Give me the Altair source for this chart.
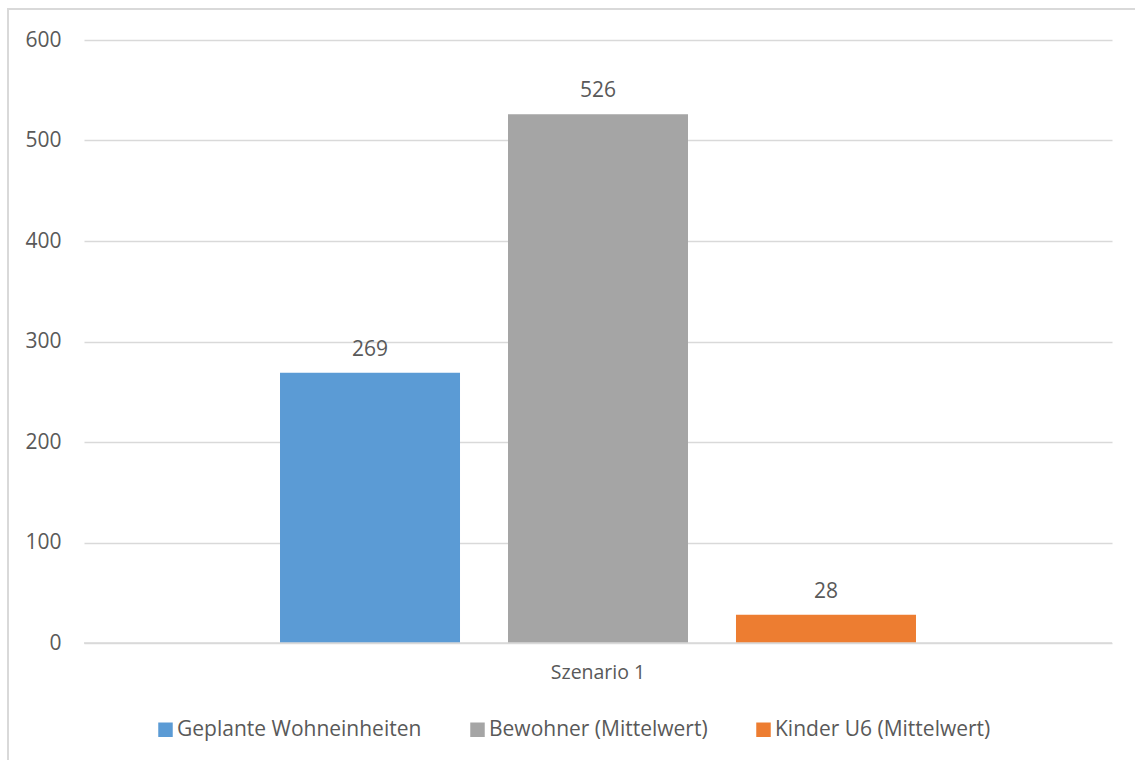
import altair as alt
import pandas as pd

series = ["Geplante Wohneinheiten", "Bewohner (Mittelwert)", "Kinder U6 (Mittelwert)"]
values = [269, 526, 28]
colors = ["#5B9BD5", "#A5A5A5", "#ED7D31"]
category = "Szenario 1"
y_ticks = [0, 100, 200, 300, 400, 500, 600]

df = pd.DataFrame({"Kategorie": [category] * 3, "Reihe": series, "Wert": values})

FONT = "Open Sans"
TXT = "#595959"

x_enc = alt.X("Kategorie:N", title=None,
              scale=alt.Scale(paddingInner=0, paddingOuter=0.3082),
              axis=alt.Axis(labelAngle=0, ticks=False, domain=False, grid=False, labelPadding=20,
                            labelFontSize=19.5, labelColor=TXT, labelFont=FONT))
xoff = alt.XOffset("Reihe:N", scale=alt.Scale(domain=series, paddingInner=0.2105, paddingOuter=0))
y_enc = alt.Y("Wert:Q", title=None,
              scale=alt.Scale(domain=[0, 600], nice=False),
              axis=alt.Axis(values=y_ticks, ticks=False, domain=False, labelPadding=23,
                            labelFontSize=21, labelColor=TXT, labelFont=FONT,
                            gridColor="#D9D9D9", gridWidth=1.5))

bars = alt.Chart(df).mark_bar().encode(
    x=x_enc, xOffset=xoff, y=y_enc,
    color=alt.Color("Reihe:N", scale=alt.Scale(domain=series, range=colors),
                    legend=alt.Legend(title=None, orient="none", direction="horizontal",
                                      legendX=71, legendY=679, symbolType="square",
                                      symbolSize=210, symbolStrokeWidth=0, symbolOpacity=1,
                                      labelFontSize=21, labelColor=TXT, labelFont=FONT,
                                      labelOffset=1, columnPadding=45, labelLimit=400)),
)

labels = alt.Chart(df).mark_text(baseline="alphabetic", dy=-17, fontSize=21, font=FONT, color=TXT).encode(
    x=alt.X("Kategorie:N"), xOffset=alt.XOffset("Reihe:N"), y=alt.Y("Wert:Q"),
    text=alt.Text("Wert:Q"),
)

frame_df = pd.DataFrame({"a": [0]})
frame = alt.Chart(frame_df).mark_rect(fill="transparent", stroke="#D9D9D9", strokeWidth=2).encode(
    x=alt.value(-76), x2=alt.value(1134 - 84 + 5), y=alt.value(-31), y2=alt.value(760 - 40 + 10),
)

zero = alt.Chart(frame_df).mark_rule(color="#D9D9D9", strokeWidth=1.5).encode(
    x=alt.value(0), x2=alt.value(1028), y=alt.value(603),
)

chart = alt.layer(frame, bars, labels, zero).properties(
    width=1028, height=603,
    background="white",
    autosize=alt.AutoSizeParams(type="none"),
    padding={"left": 84, "top": 40, "right": 23, "bottom": 117},
).configure_view(strokeWidth=0, stroke="transparent")

chart.save("out.html", embed_options={"renderer": "svg", "actions": False})
